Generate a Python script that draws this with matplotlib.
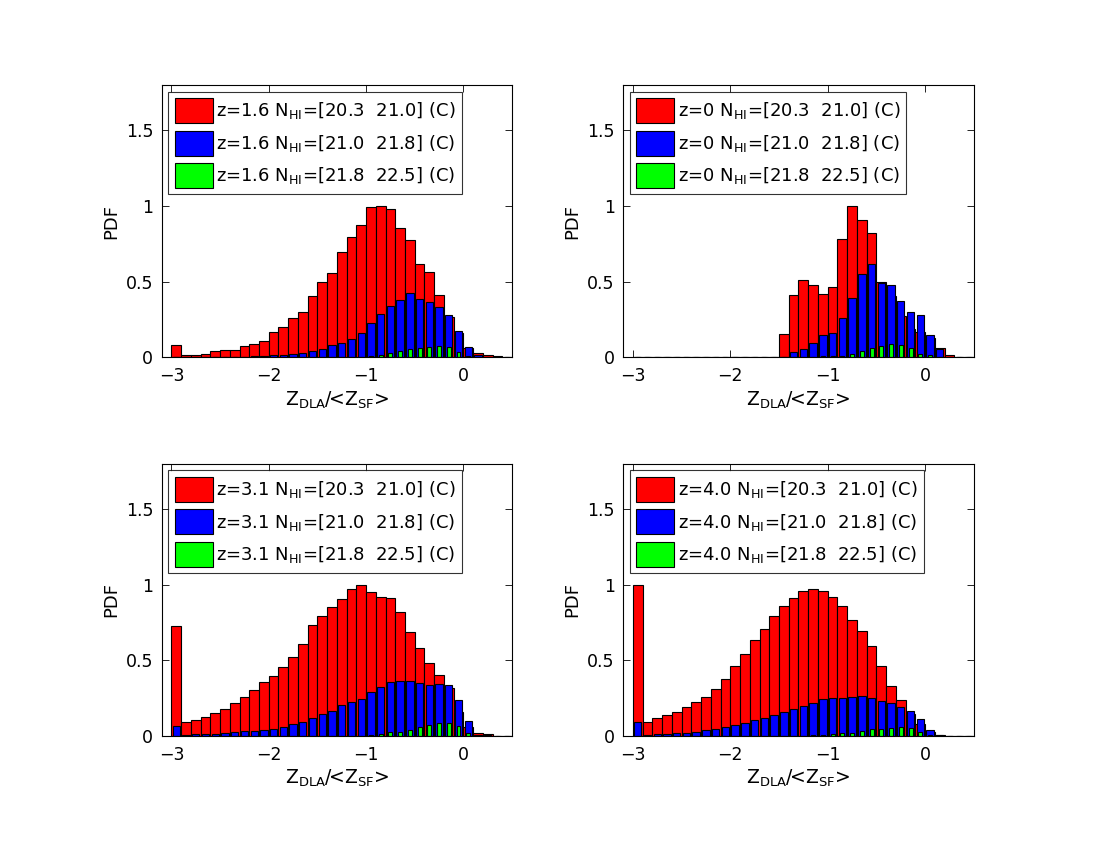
import numpy as np
import matplotlib
matplotlib.use("Agg")
import matplotlib.pyplot as plt

plt.rcParams['font.family'] = ['DejaVu Sans']
plt.rcParams['mathtext.fontset'] = 'dejavusans'

# bin centres of Z_DLA/<Z_SF>, width 0.1
centres = [-2.95, -2.85, -2.75, -2.65, -2.55, -2.45, -2.35, -2.25, -2.15, -2.05,
           -1.95, -1.85, -1.75, -1.65, -1.55, -1.45, -1.35, -1.25, -1.15, -1.05,
           -0.95, -0.85, -0.75, -0.65, -0.55, -0.45, -0.35, -0.25, -0.15, -0.05,
           0.05, 0.15, 0.25, 0.35, 0.45]

redshifts = ['1.6', '0', '3.1', '4.0']
nhi_bins = ['[20.3  21.0]', '[21.0  21.8]', '[21.8  22.5]']

# z=1.6
z16_low = [0.08, 0.013, 0.013, 0.022, 0.04, 0.046, 0.05, 0.073, 0.088, 0.106,
           0.165, 0.203, 0.258, 0.297, 0.403, 0.496, 0.56, 0.694, 0.793, 0.874,
           0.996, 1.0, 0.98, 0.855, 0.775, 0.615, 0.562, 0.414, 0.264, 0.16,
           0.065, 0.026, 0.013, 0.007, 0.003]
z16_mid = [0.0, 0.001, 0.002, 0.002, 0.003, 0.003, 0.004, 0.004, 0.007, 0.009,
           0.013, 0.015, 0.02, 0.026, 0.04, 0.053, 0.079, 0.092, 0.121, 0.163,
           0.227, 0.286, 0.341, 0.377, 0.423, 0.388, 0.363, 0.333, 0.28, 0.176,
           0.07, 0.015, 0.004, 0.001, 0.0]
z16_high = [0, 0, 0, 0, 0, 0, 0, 0, 0, 0,
            0, 0, 0, 0, 0, 0, 0, 0, 0.002, 0.004,
            0.009, 0.015, 0.029, 0.042, 0.055, 0.064, 0.07, 0.077, 0.066, 0.035,
            0.009, 0.001, 0, 0, 0]

# z=0
z0_low = [0, 0, 0, 0, 0, 0, 0, 0, 0, 0,
          0, 0.001, 0.003, 0.001, 0.005, 0.154, 0.41, 0.511, 0.476, 0.42,
          0.463, 0.784, 1.0, 0.905, 0.82, 0.496, 0.405, 0.273, 0.19, 0.17,
          0.13, 0.06, 0.013, 0.002, 0]
z0_mid = [0, 0, 0, 0, 0, 0, 0, 0, 0, 0,
          0, 0, 0, 0, 0, 0.002, 0.037, 0.053, 0.093, 0.145,
          0.159, 0.262, 0.39, 0.548, 0.615, 0.493, 0.478, 0.374, 0.297, 0.28,
          0.145, 0.055, 0.005, 0, 0]
z0_high = [0, 0, 0, 0, 0, 0, 0, 0, 0, 0,
           0, 0, 0, 0, 0, 0, 0, 0, 0.003, 0.007,
           0.007, 0.012, 0.02, 0.04, 0.06, 0.075, 0.086, 0.079, 0.062, 0.024,
           0.018, 0.002, 0, 0, 0]

# z=3.1
z31_low = [0.73, 0.093, 0.108, 0.128, 0.15, 0.177, 0.217, 0.259, 0.305, 0.354,
           0.398, 0.456, 0.522, 0.608, 0.735, 0.79, 0.856, 0.905, 0.969, 1.0,
           0.951, 0.918, 0.914, 0.821, 0.69, 0.582, 0.482, 0.403, 0.316, 0.16,
           0.062, 0.018, 0.011, 0.002, 0]
z31_mid = [0.066, 0.009, 0.011, 0.013, 0.015, 0.018, 0.024, 0.031, 0.033, 0.042,
           0.049, 0.06, 0.077, 0.095, 0.122, 0.144, 0.168, 0.204, 0.225, 0.243,
           0.29, 0.323, 0.355, 0.363, 0.362, 0.351, 0.337, 0.344, 0.337, 0.236,
           0.101, 0.01, 0.006, 0, 0]
z31_high = [0, 0, 0, 0, 0, 0, 0, 0, 0, 0,
            0, 0, 0, 0, 0, 0, 0, 0, 0.001, 0.002,
            0.004, 0.015, 0.024, 0.029, 0.042, 0.058, 0.075, 0.084, 0.084, 0.069,
            0.018, 0.001, 0, 0, 0]

# z=4.0
z40_low = [1.0, 0.095, 0.117, 0.137, 0.159, 0.195, 0.223, 0.257, 0.308, 0.374,
           0.465, 0.542, 0.633, 0.704, 0.792, 0.858, 0.909, 0.956, 0.971, 0.956,
           0.92, 0.858, 0.765, 0.692, 0.595, 0.462, 0.332, 0.237, 0.146, 0.08,
           0.027, 0.007, 0.002, 0, 0]
z40_mid = [0.095, 0.009, 0.011, 0.013, 0.018, 0.02, 0.027, 0.038, 0.049, 0.06,
           0.075, 0.086, 0.104, 0.119, 0.137, 0.157, 0.181, 0.197, 0.217, 0.243,
           0.254, 0.254, 0.261, 0.264, 0.254, 0.231, 0.216, 0.192, 0.165, 0.11,
           0.038, 0.007, 0.002, 0, 0]
z40_high = [0, 0, 0, 0, 0, 0, 0, 0, 0, 0,
            0, 0, 0, 0, 0, 0, 0.001, 0.002, 0.004, 0.009,
            0.013, 0.018, 0.022, 0.033, 0.044, 0.046, 0.051, 0.058, 0.051, 0.029,
            0.007, 0, 0, 0, 0]

panels = [
    (z16_low, z16_mid, z16_high),
    (z0_low, z0_mid, z0_high),
    (z31_low, z31_mid, z31_high),
    (z40_low, z40_mid, z40_high),
]

# axes rectangles in figure fraction
positions = [
    [0.147, 0.5796, 0.3185, 0.3204],
    [0.5664, 0.5796, 0.319, 0.3204],
    [0.147, 0.1341, 0.3185, 0.3204],
    [0.5664, 0.1341, 0.319, 0.3204],
]

colours = ['#ff0000', '#0000ff', '#00ff00']
widths = [0.1, 0.075, 0.04]

fig = plt.figure(figsize=(11, 8.5), dpi=100)

for pos, z, series in zip(positions, redshifts, panels):
    ax = fig.add_axes(pos)
    handles = []
    for vals, col, w, nb in zip(series, colours, widths, nhi_bins):
        h = ax.bar(centres, vals, width=w, color=col, edgecolor='black',
                   linewidth=0.8, align='center',
                   label='z=%s N$_{\\mathrm{HI}}$=%s (C)' % (z, nb))
        handles.append(h)
    ax.set_xlim(-3.1, 0.5)
    ax.set_ylim(0, 1.8)
    ax.set_xticks([-3, -2, -1, 0])
    ax.set_yticks([0, 0.5, 1, 1.5])
    ax.set_yticklabels(['0', '0.5', '1', '1.5'])
    ax.tick_params(direction='in', top=True, right=True, length=5,
                   labelsize=12.5, width=0.6)
    ax.tick_params(axis='x', pad=7)
    ax.tick_params(axis='y', pad=6)
    for s in ax.spines.values():
        s.set_linewidth(0.8)
    ax.set_ylabel('PDF', fontsize=13, labelpad=4)
    ax.set_xlabel('Z$_{\\mathrm{DLA}}$/<Z$_{\\mathrm{SF}}$>', fontsize=13.5,
                  labelpad=3)
    leg = ax.legend(handles=handles, loc='upper left', fontsize=13,
                    fancybox=False, frameon=True, edgecolor='black',
                    handlelength=2.1, handleheight=1.75, handletextpad=0.2,
                    labelspacing=0.42, borderpad=0.35, borderaxespad=0.37)
    leg.get_frame().set_linewidth(0.8)

fig.savefig('out.png', dpi=100)
